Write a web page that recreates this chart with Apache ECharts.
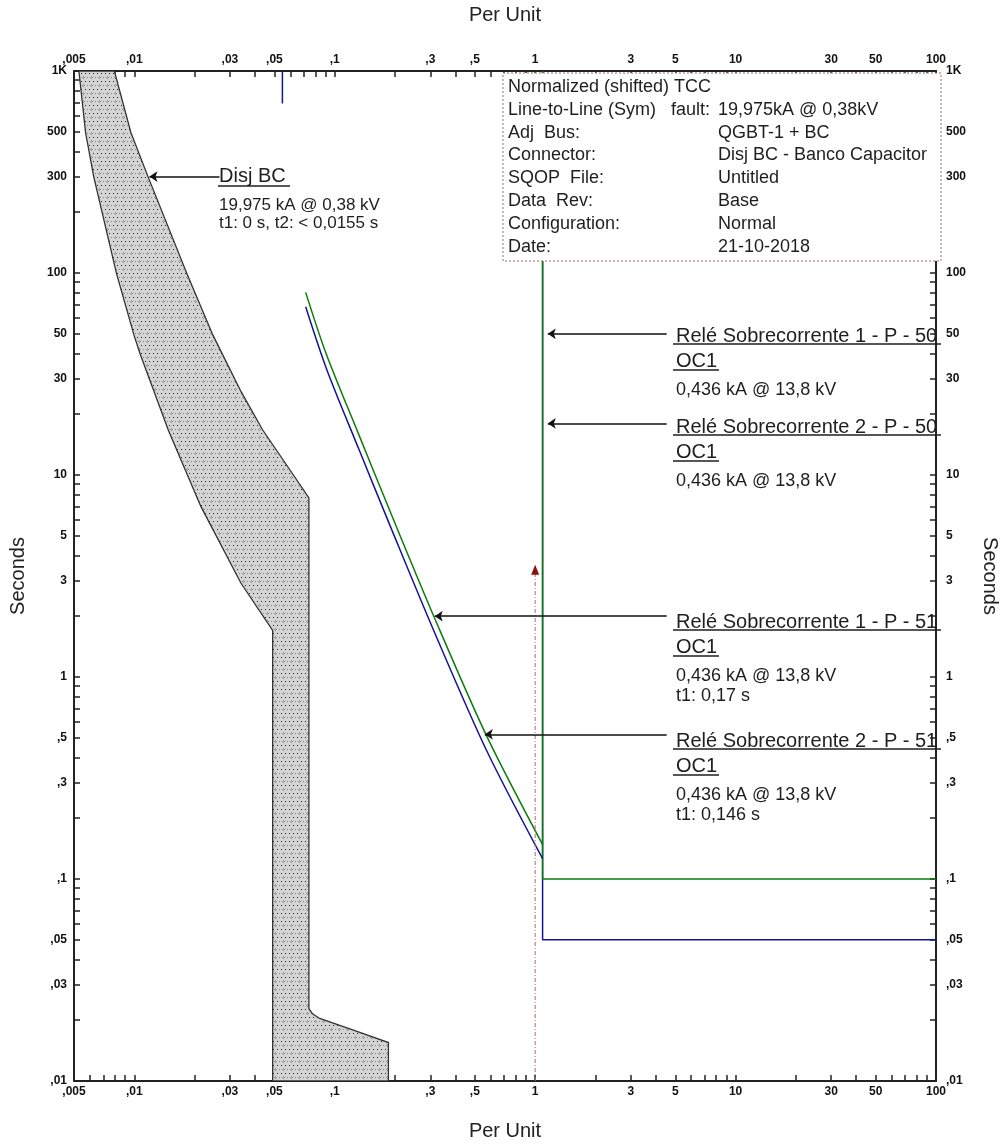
<!DOCTYPE html>
<html>
<head>
<meta charset="utf-8">
<title>TCC - Disj BC</title>
<script src="https://cdn.jsdelivr.net/npm/echarts@6/dist/echarts.min.js"></script>
<style>
  html, body { margin: 0; padding: 0; background: #fff; }
  #main { width: 1008px; height: 1146px; }
</style>
</head>
<body>
<div id="main"></div>
<script>
// eixos (valores rotulados)
const xTickValues = [0.005, 0.01, 0.03, 0.05, 0.1, 0.3, 0.5, 1, 3, 5, 10, 30, 50, 100]
const xTickLabels = [',005', ',01', ',03', ',05', ',1', ',3', ',5', '1', '3', '5', '10', '30', '50', '100']
const yTickValues = [0.01, 0.03, 0.05, 0.1, 0.3, 0.5, 1, 3, 5, 10, 30, 50, 100, 300, 500, 1000]
const yTickLabels = [',01', ',03', ',05', ',1', ',3', ',5', '1', '3', '5', '10', '30', '50', '100', '300', '500', '1K']

// Disj BC - faixa (Per Unit, Seconds)
const bandLeftX = [0.00529, 0.00571, 0.00627, 0.00815, 0.00997, 0.0107, 0.0148, 0.0215, 0.034, 0.049]
const bandLeftT = [1000, 496, 300, 99.2, 49.1, 39.6, 16.6, 6.97, 2.92, 1.70]
const bandFootX = [0.049, 0.1853, 0.1853, 0.1249, 0.0841, 0.0775, 0.0743]
const bandFootT = [0.01, 0.01, 0.0155, 0.0178, 0.0204, 0.0215, 0.0228]
const bandRightX = [0.0743, 0.059, 0.0437, 0.0342, 0.0247, 0.0183, 0.0117, 0.00961, 0.00795]
const bandRightT = [7.7, 10.8, 16.7, 25.7, 49.1, 99.2, 300, 496, 1000]

// Relé 51 (curvas inversas)
const relay51X = [0.0716, 0.0908, 0.132, 0.1926, 0.314, 0.574, 1.089]
const relay1T51 = [80.2, 39.6, 15.8, 6.3, 1.97, 0.508, 0.148]
const relay2T51 = [68.0, 33.7, 13.4, 5.35, 1.67, 0.43, 0.126]

// Relé 50 (instantâneo)
const relay50X = [1.089, 1.089, 100]
const relay1T50 = [1000, 0.1, 0.1]
const relay2T50 = [1000, 0.05, 0.05]

// marca azul no topo
const topMarkX = [0.0548, 0.0548]
const topMarkT = [1000, 690]

// corrente de falta (linha tracejada)
const faultX = [1, 1]
const faultT = [0.01, 3.4]

// setas das anotações
const arrowFromX = [0.0266, 4.53, 4.53, 4.53, 4.53]
const arrowToX = [0.0119, 1.156, 1.156, 0.3155, 0.561]
const arrowT = [300, 50, 18, 2, 0.52]

const lg = Math.log10
const FONT = '"Liberation Sans", Arial, sans-serif'

function pairs(xs, ts) {
    return xs.map((x, i) => [lg(x), lg(ts[i])])
}

function labelFor(values, labels, v) {
    for (let i = 0; i < values.length; i++) {
        if (Math.abs(lg(values[i]) - v) < 1e-6) return labels[i]
    }
    return ''
}

// ticks menores 1..9 por década
function decadeTicks(minV, maxV) {
    let out = []
    for (let e = -4; e <= 4; e++) {
        for (let m = 1; m <= 9; m++) {
            let v = lg(m * Math.pow(10, e))
            if (v >= lg(minV) - 1e-9 && v <= lg(maxV) + 1e-9) out.push(v)
        }
    }
    return out
}

// padrão pontilhado da faixa
function makePattern() {
    let c = document.createElement('canvas')
    c.width = 8
    c.height = 8
    let ctx = c.getContext('2d')
    ctx.fillStyle = '#d4d4d4'
    ctx.fillRect(0, 0, 8, 8)
    ctx.fillStyle = '#222'
    ctx.fillRect(1, 1, 1, 1)
    ctx.fillRect(5, 1, 1, 1)
    ctx.fillStyle = '#8a8a8a'
    ctx.fillRect(3, 4, 1, 1)
    ctx.fillRect(2, 5, 1, 1)
    ctx.fillRect(4, 5, 1, 1)
    ctx.fillRect(3, 6, 1, 1)
    ctx.fillRect(7, 5, 1, 1)
    return c
}

const bandPoints = pairs(bandLeftX, bandLeftT)
    .concat(pairs(bandFootX, bandFootT))
    .concat(pairs(bandRightX, bandRightT))

function xAxisCfg(pos, nameGap) {
    return {
        type: 'value',
        position: pos,
        min: lg(0.005),
        max: lg(100),
        name: 'Per Unit',
        nameLocation: 'middle',
        nameGap: nameGap,
        nameTextStyle: { fontSize: 20, color: '#222', fontFamily: FONT },
        splitLine: { show: false },
        axisLine: { show: true, onZero: false, lineStyle: { color: '#222', width: 2 } },
        axisTick: { show: true, inside: true, length: 6, customValues: decadeTicks(0.005, 100), lineStyle: { color: '#222', width: 1.5 } },
        axisLabel: {
            show: true, margin: 5, fontSize: 12, fontWeight: 'bold', color: '#111', fontFamily: FONT,
            customValues: xTickValues.map(lg),
            formatter: v => labelFor(xTickValues, xTickLabels, v)
        }
    }
}

function yAxisCfg(pos, nameGap, rotate, margin) {
    return {
        type: 'value',
        position: pos,
        min: lg(0.01),
        max: lg(1000),
        name: 'Seconds',
        nameLocation: 'middle',
        nameGap: nameGap,
        nameRotate: rotate,
        nameTextStyle: { fontSize: 20, color: '#222', fontFamily: FONT },
        splitLine: { show: false },
        axisLine: { show: true, onZero: false, lineStyle: { color: '#222', width: 2 } },
        axisTick: { show: true, inside: true, length: 6, customValues: decadeTicks(0.01, 1000), lineStyle: { color: '#222', width: 1.5 } },
        axisLabel: {
            show: true, margin: margin, fontSize: 12, fontWeight: 'bold', color: '#111', fontFamily: FONT,
            customValues: yTickValues.map(lg),
            formatter: v => labelFor(yTickValues, yTickLabels, v)
        }
    }
}

function txt(text, x, y, size, extra) {
    return Object.assign({
        type: 'text', z: 110,
        style: { text: text, x: x, y: y, font: size + 'px ' + FONT, fill: '#1e1e1e', textVerticalAlign: 'middle', textAlign: 'left' }
    }, extra || {})
}

function uline(x1, x2, y) {
    return { type: 'line', z: 110, shape: { x1: x1, y1: y, x2: x2, y2: y }, style: { stroke: '#1e1e1e', lineWidth: 1.5 } }
}

// caixa de informação
const infoRows = [
    ['Normalized (shifted) TCC', ''],
    ['Line-to-Line (Sym)', '19,975kA @ 0,38kV'],
    ['Adj  Bus:', 'QGBT-1 + BC'],
    ['Connector:', 'Disj BC - Banco Capacitor'],
    ['SQOP  File:', 'Untitled'],
    ['Data  Rev:', 'Base'],
    ['Configuration:', 'Normal'],
    ['Date:', '21-10-2018']
]

function buildGraphics() {
    let g = []
    g.push({ type: 'rect', z: 100, shape: { x: 503, y: 73, width: 438, height: 188 }, style: { fill: '#fff', stroke: '#9b6a6a', lineWidth: 1, lineDash: [2, 2] } })
    infoRows.forEach((r, i) => {
        let y = 87 + i * 22.8
        g.push(txt(r[0], 508, y, 18))
        if (r[1]) g.push(txt(r[1], 718, y, 18))
    })
    g.push(txt('fault:', 671, 87 + 22.8, 18))

    // Disj BC
    g.push(txt('Disj BC', 219, 176, 20))
    g.push(uline(218, 290, 186))
    g.push(txt('19,975 kA @ 0,38 kV', 219, 205, 17))
    g.push(txt('t1: 0 s, t2: < 0,0155 s', 219, 223, 17))

    // relés
    const relays = [
        [336, 'Relé Sobrecorrente 1 - P - 50', null],
        [427, 'Relé Sobrecorrente 2 - P - 50', null],
        [622, 'Relé Sobrecorrente 1 - P - 51', 't1: 0,17 s'],
        [741, 'Relé Sobrecorrente 2 - P - 51', 't1: 0,146 s']
    ]
    relays.forEach(r => {
        let y = r[0]
        g.push(txt(r[1], 676, y, 20))
        g.push(uline(673, 941, y + 8))
        g.push(txt('OC1', 676, y + 25, 20))
        g.push(uline(673, 719, y + 34))
        g.push(txt('0,436 kA @ 13,8 kV', 676, y + 54, 18))
        if (r[2]) g.push(txt(r[2], 676, y + 74, 18))
    })
    return g
}

const chart = {

    init() {
        let main = document.getElementById('main')
        let myChart = echarts.init(main, null, { renderer: 'canvas' })
        myChart.setOption(this.createOption())
    },

    createOption() {
        const pattern = { image: makePattern(), repeat: 'repeat' }
        const GREEN = '#0b7d0b'
        const BLUE = '#13139a'

        return {
            animation: false,
            backgroundColor: '#fff',
            grid: { left: 70, right: 61, top: 71, bottom: 55, containLabel: false },
            xAxis: [xAxisCfg('bottom', 40), xAxisCfg('top', 46)],
            yAxis: [yAxisCfg('left', 46, 90, 7), yAxisCfg('right', 44, -90, 10)],
            series: [
                {
                    name: 'Disj BC',
                    type: 'custom',
                    data: [[0, 0]],
                    clip: true,
                    z: 2,
                    renderItem: (params, api) => ({
                        type: 'polygon',
                        shape: { points: bandPoints.map(p => api.coord(p)) },
                        style: { fill: pattern, stroke: '#333', lineWidth: 1.3 }
                    })
                },
                {
                    name: 'Topo',
                    type: 'line',
                    data: pairs(topMarkX, topMarkT),
                    showSymbol: false,
                    lineStyle: { color: BLUE, width: 1.5 }
                },
                {
                    name: 'Relé Sobrecorrente 2 - P - 50',
                    type: 'line',
                    data: pairs(relay50X, relay2T50),
                    showSymbol: false,
                    lineStyle: { color: BLUE, width: 1.5 }
                },
                {
                    name: 'Relé Sobrecorrente 1 - P - 50',
                    type: 'line',
                    data: pairs(relay50X, relay1T50),
                    showSymbol: false,
                    lineStyle: { color: GREEN, width: 1.5 }
                },
                {
                    name: 'Relé Sobrecorrente 2 - P - 51',
                    type: 'line',
                    data: pairs(relay51X, relay2T51),
                    smooth: 0.3,
                    showSymbol: false,
                    lineStyle: { color: BLUE, width: 1.5 }
                },
                {
                    name: 'Relé Sobrecorrente 1 - P - 51',
                    type: 'line',
                    data: pairs(relay51X, relay1T51),
                    smooth: 0.3,
                    showSymbol: false,
                    lineStyle: { color: GREEN, width: 1.5 }
                },
                {
                    name: 'Falta',
                    type: 'line',
                    data: pairs(faultX, faultT).map((p, i) => i === 1
                        ? { value: p, symbol: 'triangle', symbolSize: [8, 10], itemStyle: { color: '#8b1010' } }
                        : { value: p, symbol: 'none' }),
                    showSymbol: true,
                    lineStyle: { color: '#b06a6a', width: 1, type: [4, 2, 1, 2] }
                },
                {
                    name: 'Setas',
                    type: 'line',
                    data: [],
                    markLine: {
                        silent: true,
                        symbol: ['none', 'arrow'],
                        symbolSize: 8,
                        label: { show: false },
                        lineStyle: { color: '#111', width: 1.5, type: 'solid' },
                        data: arrowT.map((t, i) => [
                            { coord: [lg(arrowFromX[i]), lg(t)] },
                            { coord: [lg(arrowToX[i]), lg(t)] }
                        ])
                    }
                }
            ],
            graphic: buildGraphics()
        }
    }
}

chart.init()
</script>
</body>
</html>
